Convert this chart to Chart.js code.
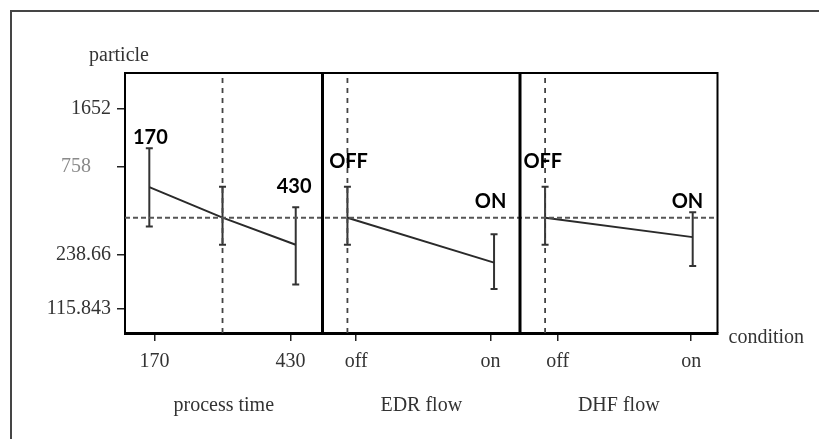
<!DOCTYPE html>
<html><head><meta charset="utf-8">
<script src="https://cdn.jsdelivr.net/npm/chart.js@4/dist/chart.umd.min.js"></script>
<style>
html,body{margin:0;padding:0;background:#fff;overflow:hidden;width:819px;height:439px;}
#frame{position:absolute;left:10px;top:10px;width:900px;height:500px;border:2px solid #454545;}
#c{position:absolute;left:0;top:0;}
</style></head><body>
<div id="frame"></div>
<canvas id="c" width="819" height="439"></canvas>
<script>
// ---------- data ----------
const panelTitles = ['process time', 'EDR flow', 'DHF flow'];
const processTimeLevels = [160, 300, 440];
const processTimeMean  = [581, 388, 271];
const processTimeUpper = [973, 585, 446];
const processTimeLower = [345, 271, 160];
const processTimeTicks = [170, 430];
const flowLevels = ['off', 'on'];
const edrMean  = [388, 214];
const edrUpper = [585, 312];
const edrLower = [271, 151];
const dhfMean  = [388, 300];
const dhfUpper = [585, 417];
const dhfLower = [271, 205];
const currentPrediction = 388;
const currentProcessTime = 300;
const currentFlow = 'off';
const yTickValues = [115.843, 238.66, 758, 1652];
const yTickLabels = ['115.843', '238.66', '758', '1652'];
const yTitle = 'particle';
const xTitle = 'condition';
const annotationTexts = [
  {panel: 0, level: 0, text: '170'},
  {panel: 0, level: 2, text: '430'},
  {panel: 1, level: 0, text: 'OFF'},
  {panel: 1, level: 1, text: 'ON'},
  {panel: 2, level: 0, text: 'OFF'},
  {panel: 2, level: 1, text: 'ON'}
];

// ---------- layout (not data) ----------
const Y_RANGE = [84.3, 2635];
const PANEL_DOMAIN = [[113.5, 491.2], [-0.17, 1.177], [-0.17, 1.168]];
const FLOW_TICK_POS = [[0.06, 0.975], [0.085, 0.99]];
const ANNOT_OFFSET = [[-16.3, -3.8], [-19, -14.3], [-18.3, -18.7], [-19.3, -26.3], [-21.7, -18.2], [-21, -4.3]];

function toAxis(panel, v) {
  const [lo, hi] = PANEL_DOMAIN[panel];
  return panel + (v - lo) / (hi - lo);
}

const panels = [
  {pos: processTimeLevels, mean: processTimeMean, upper: processTimeUpper, lower: processTimeLower,
   current: currentProcessTime, ticks: processTimeTicks, tickLabels: processTimeTicks.map(String)},
  {pos: flowLevels.map((_, i) => i), mean: edrMean, upper: edrUpper, lower: edrLower,
   current: flowLevels.indexOf(currentFlow), ticks: FLOW_TICK_POS[0], tickLabels: flowLevels},
  {pos: flowLevels.map((_, i) => i), mean: dhfMean, upper: dhfUpper, lower: dhfLower,
   current: flowLevels.indexOf(currentFlow), ticks: FLOW_TICK_POS[1], tickLabels: flowLevels}
];

const xTicks = [];
panels.forEach((p, i) => p.ticks.forEach((t, j) => xTicks.push({value: toAxis(i, t), label: p.tickLabels[j]})));

const datasets = [];
// horizontal reference line
datasets.push({data: [{x: 0, y: currentPrediction}, {x: 3, y: currentPrediction}],
  borderColor: '#555', borderWidth: 2, borderDash: [5, 3], pointRadius: 0});
// vertical current-setting lines
panels.forEach((p, i) => {
  const x = toAxis(i, p.current);
  datasets.push({data: [{x, y: Y_RANGE[0]}, {x, y: Y_RANGE[1]}],
    borderColor: '#444', borderWidth: 1.8, borderDash: [5, 5], pointRadius: 0});
});
// mean lines
panels.forEach((p, i) => {
  datasets.push({data: p.pos.map((v, k) => ({x: toAxis(i, v), y: p.mean[k]})),
    borderColor: '#2a2a2a', borderWidth: 2, pointRadius: 0, tension: 0});
});
// error bars
panels.forEach((p, i) => {
  p.pos.forEach((v, k) => {
    const x = toAxis(i, v);
    datasets.push({data: [{x, y: p.lower[k]}, {x, y: p.upper[k]}],
      borderColor: '#333', borderWidth: 2, pointStyle: 'line', pointRadius: 3.5,
      pointBorderColor: '#333', pointBorderWidth: 2});
  });
});

const decor = {
  id: 'decor',
  afterDatasetsDraw(chart) {
    const {ctx, chartArea: a, scales: {x, y}} = chart;
    ctx.save();
    ctx.strokeStyle = '#000';
    ctx.lineWidth = 2;
    ctx.beginPath();
    ctx.moveTo(a.left, a.top); ctx.lineTo(a.right, a.top); ctx.lineTo(a.right, a.bottom);
    ctx.stroke();
    ctx.lineWidth = 3;
    [1, 2].forEach(b => {
      const px = x.getPixelForValue(b);
      ctx.beginPath(); ctx.moveTo(px, a.top - 1); ctx.lineTo(px, a.bottom + 1); ctx.stroke();
    });
    // bold annotations
    ctx.fillStyle = '#000';
    ctx.font = 'bold 20px Lato';
    ctx.textBaseline = 'alphabetic';
    ctx.textAlign = 'left';
    annotationTexts.forEach((t, i) => {
      const p = panels[t.panel];
      const px = x.getPixelForValue(toAxis(t.panel, p.pos[t.level]));
      const py = y.getPixelForValue(p.upper[t.level]);
      ctx.fillText(t.text, px + ANNOT_OFFSET[i][0], py + ANNOT_OFFSET[i][1]);
    });
    // titles
    ctx.fillStyle = '#333';
    ctx.font = '20px "Liberation Serif"';
    ctx.textAlign = 'center';
    panelTitles.forEach((t, i) => ctx.fillText(t, x.getPixelForValue(i + 0.5), 411));
    ctx.textAlign = 'left';
    ctx.fillText(yTitle, 89, 61);
    ctx.fillText(xTitle, a.right + 11, 343);
    ctx.restore();
  }
};

new Chart(document.getElementById('c'), {
  type: 'line',
  data: {datasets},
  plugins: [decor],
  options: {
    responsive: false, animation: false, devicePixelRatio: 1,
    layout: {padding: {left: 0, right: 101.5, top: 73, bottom: 56}},
    plugins: {legend: {display: false}, tooltip: {enabled: false}},
    scales: {
      x: {
        type: 'linear', min: 0, max: 3,
        afterBuildTicks: s => { s.ticks = xTicks.map(t => ({value: t.value})); },
        afterFit: s => { s.height = 50; },
        ticks: {autoSkip: false, maxRotation: 0, padding: 9, color: '#333',
          font: {family: 'Liberation Serif', size: 20},
          callback: (v, i) => xTicks[i].label},
        grid: {drawOnChartArea: false, drawTicks: true, tickLength: 8, color: '#222', lineWidth: 1.5},
        border: {display: true, color: '#000', width: 3}
      },
      y: {
        type: 'logarithmic', min: Y_RANGE[0], max: Y_RANGE[1],
        afterBuildTicks: s => { s.ticks = yTickValues.map(v => ({value: v})); },
        afterFit: s => { s.width = 125; },
        ticks: {autoSkip: false, padding: 6,
          color: c => (c.tick && c.tick.value === 758) ? '#8a8a8a' : '#333',
          font: {family: 'Liberation Serif', size: 20},
          callback: (v, i) => yTickLabels[i] + (yTickValues[i] === 758 ? '\u2003' : '')},
        grid: {drawOnChartArea: false, drawTicks: true, tickLength: 8, color: '#222', lineWidth: 1.5},
        border: {display: true, color: '#000', width: 2}
      }
    }
  }
});
</script>
</body></html>
